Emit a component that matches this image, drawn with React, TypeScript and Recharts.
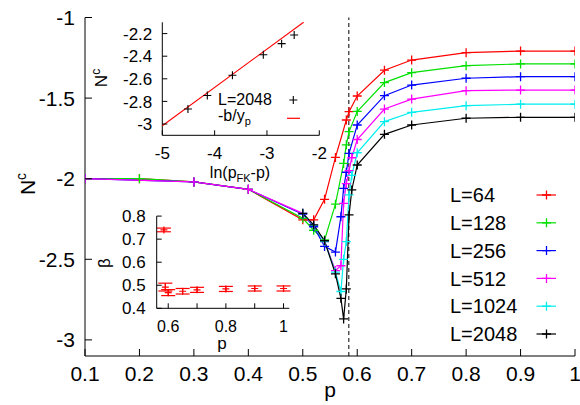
import React from "react";
import {
  ErrorBar,
  Line,
  LineChart,
  ReferenceLine,
  Scatter,
  ScatterChart,
  XAxis,
  YAxis,
} from "recharts";

const FONT = "'Liberation Sans', Arial, Helvetica, sans-serif";

// main plot: N^c against p for each lattice size
const pValues = [0.1, 0.2, 0.3, 0.4, 0.5, 0.52, 0.54, 0.56, 0.57, 0.575, 0.58, 0.585, 0.59, 0.6, 0.65, 0.7, 0.8, 0.9, 1.0];
const nL64 = [-2.0, -2.0, -2.02, -2.066, -2.255, -2.255, -2.128, -1.868, null, null, -1.636, -1.584, null, -1.487, -1.327, -1.264, -1.218, -1.208, -1.208];
const nL128 = [-2.0, -2.0, -2.02, -2.066, -2.246, -2.32, -2.38, -2.158, null, -1.905, -1.79, -1.708, null, -1.583, -1.404, -1.342, -1.299, -1.288, -1.288];
const nL256 = [-2.0, null, -2.02, -2.066, -2.22, -2.298, -2.42, -2.455, -2.236, -2.06, -1.96, -1.843, null, -1.667, -1.485, -1.419, -1.377, -1.367, -1.367];
const nL512 = [-2.0, null, -2.02, -2.066, -2.215, -2.29, -2.39, -2.57, -2.54, -2.153, -2.03, -1.95, -1.87, -1.757, -1.568, -1.506, -1.454, -1.45, -1.45];
const nL1024 = [null, null, null, null, -2.215, -2.29, -2.39, -2.58, -2.7, -2.5, -2.39, -2.1, -1.98, -1.839, -1.646, -1.588, -1.547, -1.538, -1.538];
const nL2048 = [null, null, null, null, -2.215, -2.287, -2.385, -2.59, -2.742, -2.87, -2.684, -2.225, -2.07, -1.915, -1.725, -1.667, -1.625, -1.619, -1.619];

const seriesNames = ["L=64", "L=128", "L=256", "L=512", "L=1024", "L=2048"];
const seriesKeys = ["L64", "L128", "L256", "L512", "L1024", "L2048"];
const seriesColors = ["#ff0000", "#00e000", "#0000ff", "#ff00ff", "#00eeee", "#000000"];
const seriesValues = [nL64, nL128, nL256, nL512, nL1024, nL2048];

const pFK = 0.5846;
const xTicks = [0.1, 0.2, 0.3, 0.4, 0.5, 0.6, 0.7, 0.8, 0.9, 1];
const yTicks = [-3, -2.5, -2, -1.5, -1];

// upper inset: N^c against ln(pFK - p), L=2048
const lnX = [-4.51, -4.14, -3.66, -3.07, -2.72, -2.48];
const lnN = [-2.867, -2.748, -2.568, -2.387, -2.289, -2.212];
const fitX = [-5, -2.3];
const fitN = [-3.015, -2.1];
const insetXTicks = [-5, -4, -3, -2];
const insetYTicks = [-3, -2.8, -2.6, -2.4, -2.2];

// lower inset: beta against p
const betaP = [0.585, 0.59, 0.6, 0.65, 0.7, 0.8, 0.9, 1.0];
const betaV = [0.74, 0.492, 0.468, 0.474, 0.48, 0.484, 0.486, 0.486];
const betaErr = [0.008, 0.017, 0.013, 0.012, 0.011, 0.011, 0.011, 0.011];
const betaXTicks = [0.6, 0.7, 0.8, 0.9, 1];
const betaXLabels = [0.6, 0.8, 1];
const betaYTicks = [0.4, 0.5, 0.6, 0.7, 0.8];

const mainRows = pValues.map((p, i) => {
  const row: any = { p };
  seriesKeys.forEach((k, j) => (row[k] = seriesValues[j][i]));
  return row;
});
const lnRows = lnX.map((x, i) => ({ x, n: lnN[i] }));
const fitRows = fitX.map((x, i) => ({ x, n: fitN[i] }));
const betaRows = betaP.map((p, i) => ({ p, b: betaV[i], err: betaErr[i] }));

const plusPath = (cx: number, cy: number, r: number) =>
  `M${cx - r},${cy}H${cx + r}M${cx},${cy - r}V${cy + r}`;

const plusDot = (color: string) => (props: any) => {
  const { cx, cy, index, value } = props;
  if (cx == null || cy == null || value == null) return <g key={index} />;
  return <path key={index} d={plusPath(cx, cy, 4.5)} stroke={color} strokeWidth={1.3} fill="none" />;
};

const bottomTick = (len: number, fs: number, dy: number, labels?: number[]) => (props: any) => {
  const { x, y, payload } = props;
  const show = !labels || labels.includes(payload.value);
  return (
    <g>
      <line x1={x} x2={x} y1={y} y2={y - len} stroke="#000" strokeWidth={1} />
      {show && (
        <text x={x} y={y + dy} textAnchor="middle" fontSize={fs} fontFamily={FONT} fill="#000">
          {String(payload.value)}
        </text>
      )}
    </g>
  );
};

const leftTick = (len: number, fs: number, gap: number) => (props: any) => {
  const { x, y, payload } = props;
  return (
    <g>
      <line x1={x} x2={x + len} y1={y} y2={y} stroke="#000" strokeWidth={1} />
      <text x={x - gap} y={y + fs * 0.36} textAnchor="end" fontSize={fs} fontFamily={FONT} fill="#000">
        {String(payload.value)}
      </text>
    </g>
  );
};

const frameAxes = (xd: number[], yd: number[]) => [
  <XAxis key="ft" xAxisId="top" orientation="top" type="number" domain={xd} height={0} tick={false} tickLine={false} axisLine={{ stroke: "#000" }} />,
  <YAxis key="fr" yAxisId="right" orientation="right" type="number" domain={yd} width={0} tick={false} tickLine={false} axisLine={{ stroke: "#000" }} />,
];

function MainChart() {
  return (
    <LineChart width={580} height={405} data={mainRows} margin={{ top: 17.5, right: 5, bottom: 19, left: 25 }}>
      <XAxis dataKey="p" type="number" domain={[0.1, 1]} ticks={xTicks} interval={0} height={30} tickSize={0} tickMargin={0} tickLine={false} axisLine={{ stroke: "#000" }} tick={bottomTick(7, 21, 25)} allowDataOverflow />
      <YAxis type="number" domain={[-3.1, -1]} ticks={yTicks} interval={0} width={60} tickSize={0} tickMargin={0} tickLine={false} axisLine={{ stroke: "#000" }} tick={leftTick(7, 21, 10)} allowDataOverflow />
      {frameAxes([0.1, 1], [-3.1, -1])}
      <ReferenceLine x={pFK} stroke="#000" strokeDasharray="4 3" strokeWidth={1} />
      {seriesKeys.map((k, i) => (
        <Line key={k} dataKey={k} type="linear" stroke={seriesColors[i]} strokeWidth={1.2} dot={plusDot(seriesColors[i])} activeDot={false} connectNulls isAnimationActive={false} />
      ))}
    </LineChart>
  );
}

function LnInset() {
  // plot area x 162.3..319.3, y 22.3..135.3
  return (
    <ScatterChart width={330} height={200} margin={{ top: 22.3, right: 10.7, bottom: 34.7, left: 122.3 }}>
      <XAxis dataKey="x" type="number" domain={[-5, -2]} ticks={insetXTicks} interval={0} height={30} tickSize={0} tickMargin={0} tickLine={false} axisLine={{ stroke: "#000" }} tick={bottomTick(5, 17, 24)} />
      <YAxis dataKey="n" type="number" domain={[-3.1, -2.1]} ticks={insetYTicks} interval={0} width={40} tickSize={0} tickMargin={0} tickLine={false} axisLine={{ stroke: "#000" }} tick={leftTick(5, 17, 10)} />
      {frameAxes([-5, -2], [-3.1, -2.1])}
      <Scatter data={fitRows} line={{ stroke: "#ff0000", strokeWidth: 1.1 }} shape={() => <g />} isAnimationActive={false} />
      <Scatter data={lnRows} shape={(p: any) => <path d={plusPath(p.cx, p.cy, 4)} stroke="#000" strokeWidth={1.1} fill="none" />} isAnimationActive={false} />
    </ScatterChart>
  );
}

function BetaInset() {
  // plot area x 156.7..289.3, y 216.1..308.3 (chart placed at top 200)
  return (
    <ScatterChart width={300} height={160} margin={{ top: 16.1, right: 10.7, bottom: 21.7, left: 116.7 }}>
      <XAxis dataKey="p" type="number" domain={[0.56, 1.02]} ticks={betaXTicks} interval={0} height={30} tickSize={0} tickMargin={0} tickLine={false} axisLine={{ stroke: "#000" }} tick={bottomTick(5, 16, 24, betaXLabels)} />
      <YAxis dataKey="b" type="number" domain={[0.4, 0.8]} ticks={betaYTicks} interval={0} width={40} tickSize={0} tickMargin={0} tickLine={false} axisLine={{ stroke: "#000" }} tick={leftTick(5, 17, 11)} />
      {frameAxes([0.56, 1.02], [0.4, 0.8])}
      <Scatter data={betaRows} shape={(p: any) => <path d={plusPath(p.cx, p.cy, 3.5)} stroke="#ff0000" strokeWidth={1.2} fill="none" />} isAnimationActive={false}>
        <ErrorBar dataKey="err" direction="y" width={7} stroke="#ff0000" strokeWidth={1.2} />
      </Scatter>
    </ScatterChart>
  );
}

function Labels() {
  const rowY = [195, 222.8, 250.6, 278.4, 306.2, 334];
  return (
    <svg width={580} height={405} style={{ position: "absolute", left: 0, top: 0 }} fontFamily={FONT}>
      {/* main axis titles */}
      <text x={330} y={397} textAnchor="middle" fontSize={21}>p</text>
      <text transform="translate(35,184) rotate(-90)" textAnchor="middle" fontSize={21}>
        N<tspan dy={-9} fontSize={14}>c</tspan>
      </text>
      {/* main legend */}
      {seriesNames.map((name, i) => (
        <g key={name}>
          <text x={450} y={rowY[i] + 7.2} fontSize={20}>{name}</text>
          <line x1={536.5} x2={556} y1={rowY[i]} y2={rowY[i]} stroke={seriesColors[i]} strokeWidth={1.2} />
          <path d={plusPath(546.5, rowY[i], 4.5)} stroke={seriesColors[i]} strokeWidth={1.3} />
        </g>
      ))}
      {/* upper inset titles and key */}
      <text x={240} y={178} textAnchor="middle" fontSize={16}>
        ln(p<tspan dy={4} fontSize={11}>FK</tspan><tspan dy={-4}>-p)</tspan>
      </text>
      <text transform="translate(107,78) rotate(-90)" textAnchor="middle" fontSize={17}>
        N<tspan dy={-7} fontSize={12}>c</tspan>
      </text>
      <text x={218} y={105} fontSize={16}>L=2048</text>
      <path d={plusPath(293.3, 100, 4)} stroke="#000" strokeWidth={1.1} />
      <text x={218} y={121} fontSize={16}>
        -b/y<tspan dy={4} fontSize={11}>p</tspan>
      </text>
      <line x1={287} x2={300} y1={118.3} y2={118.3} stroke="#ff0000" strokeWidth={1.2} />
      {/* lower inset titles */}
      <text x={222} y={349} textAnchor="middle" fontSize={17}>p</text>
      <text transform="translate(110,263) rotate(-90)" textAnchor="middle" fontSize={17}>β</text>
    </svg>
  );
}

export default function App() {
  return (
    <div style={{ position: "absolute", left: 0, top: 0, width: 580, height: 405, background: "#fff" }}>
      <div style={{ position: "absolute", left: 0, top: 0 }}>
        <MainChart />
      </div>
      <div style={{ position: "absolute", left: 0, top: 0 }}>
        <LnInset />
      </div>
      <div style={{ position: "absolute", left: 0, top: 200 }}>
        <BetaInset />
      </div>
      <Labels />
    </div>
  );
}
